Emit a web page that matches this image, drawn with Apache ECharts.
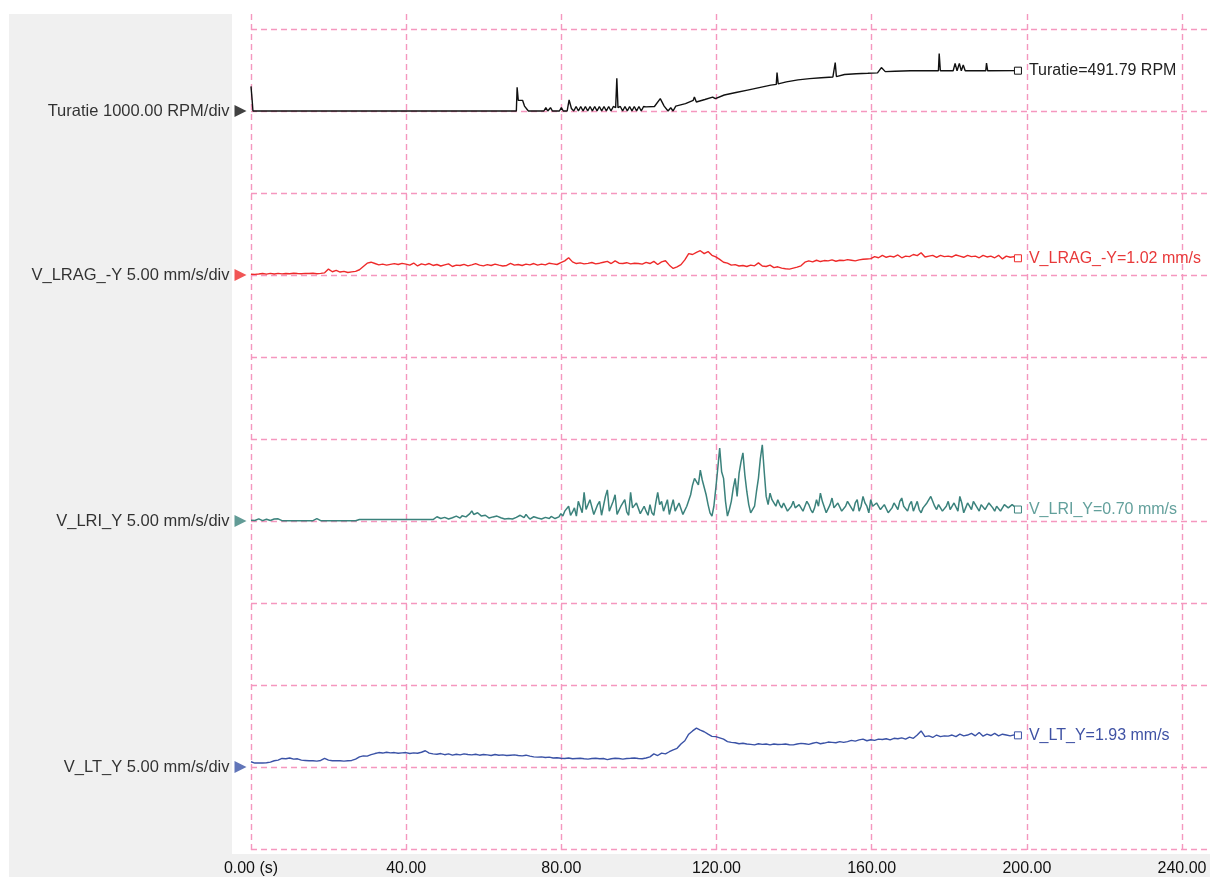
<!DOCTYPE html>
<html><head><meta charset="utf-8">
<script src="https://cdn.jsdelivr.net/npm/echarts@6/dist/echarts.min.js"></script>
<style>
html,body{margin:0;padding:0;background:#fff;overflow:hidden;}
#wrap{position:relative;width:1210px;height:877px;overflow:hidden;}
#panel{position:absolute;left:9px;top:14px;right:0;bottom:0;background:#f0f0f0;}
#chart{position:absolute;left:0;top:0;width:1260px;height:877px;}
</style></head><body>
<div id="wrap"><div id="panel"></div><div id="chart"></div></div>
<script>
// ---- data ----
const END_T = 197.7;            // last sample time (s)
const X_TICK_STEP = 40;
const X_MAX = 253.6;

const channelNames = ['Turatie', 'V_LRAG_-Y', 'V_LRI_Y', 'V_LT_Y'];
const channelScales = ['1000.00 RPM/div', '5.00 mm/s/div', '5.00 mm/s/div', '5.00 mm/s/div'];
const perDiv = [1000, 5, 5, 5];
const baselineDiv = [9, 7, 4, 1];
const finalValues = ['491.79', '1.02', '0.70', '1.93'];
const units = ['RPM', 'mm/s', 'mm/s', 'mm/s'];

// Turatie (RPM) as [time s, rpm]
const turatie = [
 [0,300],[0.3,130],[0.5,0],[68.4,0],[68.6,290],[68.9,130],[70,130],[70.5,60],[71,40],[71.5,0],
 [75.5,0],[76,40],[76.5,0],[77.2,40],[77.7,0],[79.5,0],[80,40],[80.5,0],[81.5,0],[82,135],[82.6,30],[83.2,0],
 [83.8,55],[84.4,0],[85.0,55],[85.6,0],[86.2,55],[86.8,0],[87.4,55],[88.0,0],[88.6,55],[89.2,0],
 [89.8,55],[90.4,0],[91.0,55],[91.6,0],[92.2,55],[92.8,0],[93.4,55],[94.0,40],[94.3,400],[94.6,40],
 [95.2,55],[95.8,0],[96.4,55],[97.0,0],[97.6,55],[98.2,0],[98.8,55],[99.4,0],[100.0,55],[100.6,0],
 [101.2,55],[101.8,50],[104,55],[105.5,150],[106.5,60],
 [107.5,0],[108.2,40],[108.8,0],[109.5,60],[112,90],[114,130],[114.3,170],[114.8,110],[117,140],[119,170],
 [119.3,185],[119.7,150],[122,195],[125,225],[128,255],[131,285],[134,315],[135.4,325],[135.6,470],[135.9,330],
 [138,355],[141,380],[144,395],[147,405],[150,415],[150.6,590],[150.9,420],[153,445],[156,455],[159,460],
 [161.5,465],[162.5,530],[163.5,480],[166,485],[170,490],[177.2,490],[177.4,700],[177.7,490],[181,490],
 [181.5,580],[182,490],[182.6,580],[183.1,490],[183.6,560],[184.1,490],[189.4,490],[189.6,585],[189.9,490],
 [197.7,491.79]
];

// V_LRAG_-Y (mm/s), evenly sampled 0..END_T (~1 s)
const vLRAG = [
 0.05,0.04,0.06,0.09,0.05,0.10,0.06,0.10,0.07,0.09,
 0.08,0.11,0.09,0.08,0.10,0.09,0.11,0.08,0.10,0.13,
 0.36,0.20,0.28,0.18,0.22,0.15,0.19,0.22,0.32,0.52,
 0.72,0.78,0.70,0.62,0.66,0.60,0.65,0.69,0.64,0.71,
 0.66,0.60,0.73,0.55,0.68,0.62,0.70,0.58,0.64,0.55,
 0.62,0.68,0.52,0.60,0.58,0.65,0.56,0.62,0.69,0.60,
 0.56,0.63,0.58,0.66,0.60,0.55,0.58,0.71,0.60,0.64,
 0.58,0.66,0.62,0.70,0.60,0.66,0.62,0.72,0.68,0.64,
 0.75,0.86,1.05,0.80,0.70,0.74,0.68,0.71,0.76,0.68,
 0.72,0.78,0.83,0.70,0.86,0.72,0.70,0.75,0.68,0.72,
 0.70,0.66,0.77,0.70,0.83,0.64,0.80,0.87,0.60,0.40,
 0.50,0.63,0.92,1.30,1.25,1.38,1.48,1.30,1.43,1.20,
 1.10,0.95,0.78,0.72,0.60,0.63,0.55,0.58,0.52,0.60,
 0.56,0.74,0.55,0.52,0.60,0.45,0.50,0.42,0.38,0.36,
 0.42,0.48,0.56,0.78,0.86,0.80,0.90,0.82,0.88,0.86,
 0.92,0.84,0.90,0.88,0.94,0.90,0.86,0.92,0.96,0.98,
 1.00,1.12,1.05,1.20,1.08,1.15,1.10,1.22,1.05,1.15,
 1.12,1.25,1.18,1.36,1.10,1.15,1.20,1.08,1.20,1.12,
 1.15,1.10,1.22,1.15,1.08,1.20,1.12,1.15,1.05,1.20,
 1.10,1.15,1.05,1.20,0.98,1.15,1.08,1.12,1.02
];

// V_LRI_Y (mm/s), evenly sampled 0..END_T (~0.5 s)
const vLRI = [
 0.05,0.03,0.03,0.10,0.13,0.03,0.02,0.04,0.11,0.03, 0.03,0.03,0.12,0.13,0.13,0.03,0.02,0.02,0.02,0.02,
 0.02,0.02,0.02,0.02,0.02,0.02,0.02,0.02,0.02,0.02, 0.02,0.02,0.02,0.02,0.14,0.02,0.02,0.02,0.02,0.02,
 0.02,0.02,0.02,0.02,0.02,0.02,0.02,0.02,0.02,0.02, 0.02,0.02,0.02,0.02,0.02,0.02,
 0.09,0.09,0.09,0.09,0.09,0.09,0.09,0.09,0.09,0.09, 0.09,0.09,0.09,0.09,0.09,0.09,0.09,0.09,0.09,0.09,
 0.09,0.09,0.09,0.09,0.09,0.09,0.09,0.09,0.09,0.09, 0.09,0.09,0.09,0.09,0.09,0.09,0.09,0.09,0.09,0.09,
 0.26,0.18,0.15,0.12,0.22,0.15,0.12,0.18,0.20,0.28, 0.30,0.22,0.18,0.32,0.36,0.25,0.28,0.45,0.62,0.40,
 0.35,0.50,0.45,0.30,0.22,0.35,0.30,0.18,0.15,0.25, 0.20,0.30,0.32,0.20,0.15,0.12,0.10,0.15,0.18,0.12,
 0.12,0.22,0.28,0.35,0.30,0.20,0.40,0.25,0.12,0.18, 0.26,0.15,0.18,0.12,0.12,0.15,0.22,0.18,0.15,0.28,
 0.30,0.15,0.10,0.25,
 0.45,0.30,0.60,0.50,0.90,0.35,0.55,0.80,0.30,1.20, 1.10,0.50,1.75,0.70,0.80,1.30,1.40,0.40,0.50,1.00,
 1.20,0.35,0.30,1.50,1.90,0.60,0.60,1.20,1.60,0.40, 0.40,0.90,0.80,1.30,0.55,0.35,1.75,0.80,0.70,1.10,
 1.20,0.45,0.45,0.90,0.60,0.35,1.00,0.50,0.35,1.10, 1.75,1.00,1.20,0.60,0.70,1.30,0.40,0.30,1.30,0.60,
 0.60,1.10,1.00,0.40,0.50,0.90,1.00,1.60,2.20,2.60, 2.70,2.20,3.10,2.50,2.40,1.60,1.00,0.50,0.30,0.90,
 2.00,3.20,4.45,3.00,2.60,1.20,0.30,0.70,1.20,2.00, 2.60,1.50,2.90,3.60,4.15,2.80,1.80,1.00,0.50,0.40,
 0.90,1.80,2.60,3.80,4.65,3.00,1.50,1.00,1.70,1.30, 1.20,0.90,
 1.30,1.00,0.80,1.10,1.00,0.60,0.50,0.90,1.20,0.80, 0.70,1.00,1.10,0.60,0.60,1.20,1.00,0.70,0.50,0.80,
 1.30,0.90,1.70,1.20,1.10,0.50,0.60,1.00,1.40,0.80, 0.70,1.10,1.00,0.60,0.50,0.90,1.20,1.00,0.80,0.60,
 1.10,1.30,0.60,0.90,1.50,1.10,0.90,0.50,1.30,0.90, 0.80,1.10,1.20,0.70,0.60,1.00,0.90,0.50,0.50,0.80,
 1.10,0.90,0.70,1.20,1.40,0.90,0.80,0.60,1.00,1.20, 0.60,0.90,1.20,0.70,0.50,0.80,0.90,1.10,1.10,1.50,
 1.50,0.90,0.70,1.00,1.00,0.60,0.60,0.90,1.20,0.70, 0.80,1.10,1.00,0.60,1.50,1.10,0.50,0.80,1.10,0.90,
 0.70,1.20,1.30,0.80,0.60,1.00,1.00,0.70,0.80,1.10, 1.20,0.80,0.60,0.90,0.90,0.60,0.70,1.00,1.10,0.80,
 0.80,1.00,1.00,0.80,0.70
];

// V_LT_Y (mm/s), evenly sampled 0..END_T (~1 s)
const vLT = [
 0.32,0.24,0.24,0.24,0.26,0.30,0.38,0.42,0.52,0.50,
 0.55,0.48,0.50,0.42,0.40,0.38,0.38,0.36,0.40,0.53,
 0.42,0.38,0.38,0.38,0.36,0.38,0.40,0.48,0.62,0.68,
 0.66,0.75,0.82,0.88,0.85,0.90,0.86,0.88,0.84,0.86,
 0.88,0.82,0.86,0.84,0.90,0.99,0.85,0.80,0.78,0.82,
 0.75,0.80,0.72,0.78,0.74,0.80,0.76,0.74,0.78,0.72,
 0.76,0.74,0.70,0.76,0.72,0.74,0.70,0.72,0.74,0.70,
 0.68,0.72,0.66,0.62,0.60,0.62,0.58,0.60,0.55,0.56,
 0.53,0.52,0.55,0.50,0.52,0.53,0.50,0.48,0.52,0.53,
 0.50,0.52,0.45,0.50,0.53,0.52,0.48,0.52,0.53,0.55,
 0.52,0.50,0.55,0.62,0.80,0.70,0.85,0.80,0.93,1.05,
 1.14,1.40,1.60,2.00,2.20,2.37,2.25,2.15,2.00,1.87,
 1.85,1.78,1.70,1.55,1.50,1.48,1.42,1.45,1.40,1.38,
 1.35,1.42,1.38,1.40,1.35,1.40,1.37,1.38,1.40,1.36,
 1.35,1.40,1.44,1.42,1.38,1.45,1.50,1.42,1.46,1.52,
 1.50,1.48,1.55,1.50,1.55,1.62,1.58,1.65,1.70,1.60,
 1.66,1.62,1.70,1.68,1.72,1.65,1.75,1.72,1.78,1.70,
 1.82,1.75,1.95,2.20,1.85,1.90,1.80,1.95,1.85,1.90,
 1.88,1.95,1.85,2.00,1.90,1.95,2.05,1.90,2.10,1.88,
 2.00,1.92,2.05,1.90,2.00,1.95,1.90,1.96,1.93
];

// ---- styling ----
const traceColors = ['#111111', '#ee2a2a', '#3b827c', '#3a52a6'];
const traceWidths = [1.4, 1.4, 1.5, 1.4];
const labelColors = ['#222222', '#e8393a', '#63a09c', '#3f52a4'];
const GRID_COLOR = '#f597bf';
const GRID_DASH = [6, 4];
const FONT = 'Arial, "Liberation Sans", sans-serif';

function toDiv(ch, v) { return baselineDiv[ch] + v / perDiv[ch]; }
function sampled(ch, arr) {
  const dt = END_T / (arr.length - 1);
  return arr.map((v, i) => [i * dt, toDiv(ch, v)]);
}
const seriesData = [
  turatie.map(p => [p[0], toDiv(0, p[1])]),
  sampled(1, vLRAG),
  sampled(2, vLRI),
  sampled(3, vLT)
];

function trace(ch) {
  const data = seriesData[ch];
  const last = data.length - 1;
  return {
    type: 'line', name: channelNames[ch], xAxisIndex: 2, yAxisIndex: 2, data,
    showSymbol: true, symbol: (v, p) => (p.dataIndex === last ? 'rect' : 'none'), symbolSize: 7,
    lineStyle: { color: traceColors[ch], width: traceWidths[ch] },
    itemStyle: { color: '#ffffff', borderColor: traceColors[ch], borderWidth: 1 },
    endLabel: { show: true, distance: 11, fontSize: 16, fontFamily: FONT, color: labelColors[ch],
      formatter: channelNames[ch] + '=' + finalValues[ch] + ' ' + units[ch] },
    silent: true, clip: false, z: 5
  };
}

const MARK_T = -2.7;
const markers = {
  type: 'scatter', xAxisIndex: 2, yAxisIndex: 2, clip: false, silent: true, z: 6,
  symbol: 'triangle', symbolRotate: -90, symbolSize: 12,
  data: channelNames.map((n, ch) => ({
    value: [MARK_T, baselineDiv[ch]],
    itemStyle: { color: traceColors[ch] },
    label: { show: true, position: 'left', distance: 5, fontSize: 16.5, fontFamily: FONT, color: '#000',
      formatter: n + ' ' + channelScales[ch] }
  }))
};

// plot geometry: 40 s = 155.16 px
const PLOT_LEFT = 251, PLOT_W = 983.8;
const chart = echarts.init(document.getElementById('chart'), null, { renderer: 'canvas' });
chart.setOption({
  animation: false,
  textStyle: { fontFamily: FONT },
  grid: [
    { left: 232, top: 14, right: 0, bottom: 23, show: true, backgroundColor: '#ffffff', borderWidth: 0 },
    { left: PLOT_LEFT, top: 14, width: PLOT_W, bottom: 25 },
    { left: PLOT_LEFT, top: 29, width: PLOT_W, height: 820 }
  ],
  xAxis: [
    { gridIndex: 0, type: 'value', show: false, min: 0, max: 1 },
    { gridIndex: 1, type: 'value', min: 0, max: X_MAX, interval: X_TICK_STEP,
      axisLine: { show: false }, axisTick: { show: false },
      splitLine: { show: true, lineStyle: { color: GRID_COLOR, type: GRID_DASH, width: 1.4 } },
      axisLabel: { margin: 9, fontSize: 16, color: '#111', showMaxLabel: false,
        formatter: v => (v === 0 ? '0.00 (s)' : (v % X_TICK_STEP === 0 ? v.toFixed(2) : '')) } },
    { gridIndex: 2, type: 'value', show: false, min: 0, max: X_MAX }
  ],
  yAxis: [
    { gridIndex: 0, type: 'value', show: false, min: 0, max: 1 },
    { gridIndex: 1, type: 'value', show: false, min: 0, max: 1 },
    { gridIndex: 2, type: 'value', min: 0, max: 10, interval: 1,
      axisLine: { show: false }, axisTick: { show: false }, axisLabel: { show: false },
      splitLine: { show: true, lineStyle: { color: GRID_COLOR, type: GRID_DASH, width: 1.4 } } }
  ],
  series: [trace(0), trace(1), trace(2), trace(3), markers]
});
</script>
</body></html>
